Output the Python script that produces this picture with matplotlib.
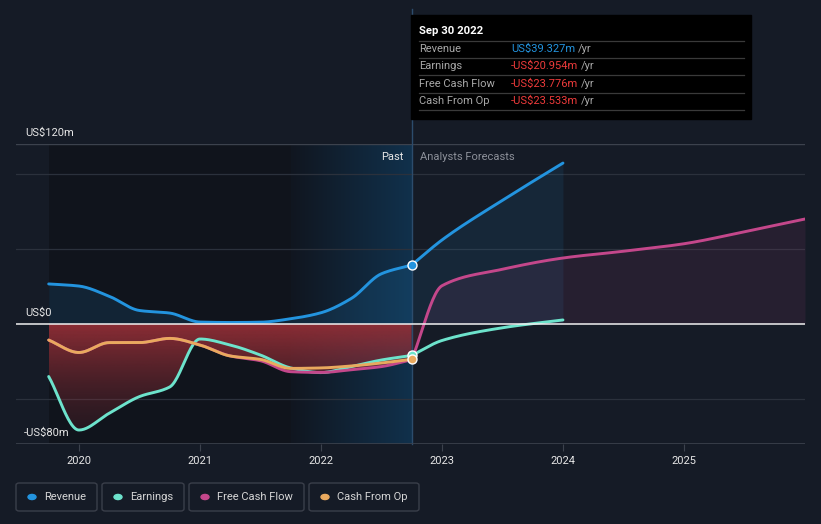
import matplotlib.pyplot as plt
import numpy as np
from matplotlib.patches import Rectangle, FancyBboxPatch
from matplotlib.lines import Line2D

plt.rcParams['font.family'] = ['Roboto', 'DejaVu Sans']

# ---- data (US$ m) ----
past_t = [2019.75, 2020.0, 2020.25, 2020.5, 2020.75, 2021.0, 2021.25,
          2021.5, 2021.75, 2022.0, 2022.25, 2022.5, 2022.75]
revenue = [26.7, 25.3, 18.5, 9.0, 7.3, 1.3, 1.0, 1.2, 3.5, 7.5, 17.0, 33.5, 39.327]
earnings = [-35.0, -70.7, -59.5, -48.4, -42.0, -10.0, -14.0, -20.7, -29.3,
            -32.4, -28.4, -24.0, -20.954]
cash_op = [-10.7, -19.0, -12.4, -12.4, -9.6, -14.0, -21.3, -23.6, -29.6,
           -29.3, -28.0, -26.0, -23.533]
fcf = [-10.7, -19.0, -12.4, -12.4, -9.6, -14.0, -21.3, -24.5, -31.8,
       -32.3, -30.5, -28.4, -23.776]

rev_fc_t = [2022.75, 2023.0, 2023.5, 2024.0]
rev_fc = [39.327, 56.0, 82.5, 107.3]
earn_fc_t = [2022.75, 2023.0, 2023.5, 2024.0]
earn_fc = [-20.954, -11.0, -2.5, 2.7]
fcf_fc_t = [2022.75, 2023.0, 2023.5, 2024.0, 2024.5, 2025.0, 2025.5, 2026.0]
fcf_fc = [-23.776, 25.5, 36.5, 44.0, 48.5, 53.5, 61.5, 70.0]

years = [2020, 2021, 2022, 2023, 2024, 2025]

C_REV = '#2394df'
C_EARN = '#6de3cc'
C_FCF = '#c4478b'
C_CFO = '#e9a95e'
BG = '#151b26'


def smooth(x, y, n=300):
    # monotone cubic (Fritsch-Carlson) curve through the points
    x = np.asarray(x, float)
    y = np.asarray(y, float)
    h = np.diff(x)
    d = np.diff(y) / h
    m = np.zeros_like(y)
    m[0], m[-1] = d[0], d[-1]
    for i in range(1, len(y) - 1):
        if d[i - 1] * d[i] > 0:
            w1 = 2 * h[i] + h[i - 1]
            w2 = h[i] + 2 * h[i - 1]
            m[i] = (w1 + w2) / (w1 / d[i - 1] + w2 / d[i])
    xs = np.linspace(x[0], x[-1], n)
    k = np.clip(np.searchsorted(x, xs) - 1, 0, len(x) - 2)
    t = (xs - x[k]) / h[k]
    h00 = 2 * t**3 - 3 * t**2 + 1
    h10 = t**3 - 2 * t**2 + t
    h01 = -2 * t**3 + 3 * t**2
    h11 = t**3 - t**2
    ys = h00 * y[k] + h10 * h[k] * m[k] + h01 * y[k + 1] + h11 * h[k] * m[k + 1]
    return xs, ys


W, H = 821, 524
fig = plt.figure(figsize=(W / 100, H / 100), dpi=100, facecolor=BG)
ax = fig.add_axes([16 / W, 1 - 444 / H, (805 - 16) / W, (444 - 144) / H])
ax.set_facecolor(BG)
ax.set_xlim(2019.48, 2026.0)
ax.set_ylim(-80, 120)

# background regions
ax.axvspan(2019.75, 2021.75, color='#10141c', zorder=0, lw=0)
grad = np.linspace(0, 1, 256).reshape(1, -1)
c0 = np.array([0x10, 0x16, 0x20]) / 255
c1 = np.array([0x11, 0x31, 0x4c]) / 255
img = c0 + (c1 - c0) * grad[..., None]
ax.imshow(img, extent=[2021.75, 2022.75, -80, 120], aspect='auto', zorder=0.5)

# grid
for g in [100, 50, -50]:
    ax.axhline(g, color='#2b313c', lw=0.9, zorder=1)
ax.axhline(120, color='#3c424d', lw=1, zorder=1)
ax.axhline(0, color='#f0f0f0', lw=1.1, zorder=6)

# smooth curves
xr, yr = smooth(past_t, revenue)
xe, ye = smooth(past_t, earnings)
xc, yc = smooth(past_t, cash_op)
xf, yf = smooth(past_t, fcf)
xr2, yr2 = smooth(rev_fc_t, rev_fc)
xe2, ye2 = smooth(earn_fc_t, earn_fc)
xf2, yf2 = smooth(fcf_fc_t, fcf_fc)

# revenue area (past + forecast)
ax.fill_between(xr, 0, yr, color=C_REV, alpha=0.13, lw=0, zorder=2)
ax.fill_between(xr2, 0, yr2, color=C_REV, alpha=0.10, lw=0, zorder=2)
# fcf forecast area
ax.fill_between(xf2, 0, np.maximum(yf2, 0), color=C_FCF, alpha=0.10, lw=0, zorder=2)
ax.fill_between(xf2, 0, np.minimum(yf2, 0), color='#8b2d35', alpha=0.25, lw=0, zorder=2)

# negative area (red gradient) in the past
low = np.minimum.reduce([ye, yc, yf, np.zeros_like(ye)])
poly = ax.fill_between(xe, 0, low, color='none', lw=0, zorder=3)
vg = np.linspace(1, 0, 256).reshape(-1, 1)
red = np.zeros((256, 1, 4))
red[..., 0] = 0x92 / 255
red[..., 1] = 0x2e / 255
red[..., 2] = 0x36 / 255
red[..., 3] = 0.15 + 0.8 * vg ** 1.6
im = ax.imshow(red, extent=[2019.75, 2022.75, -80, 0], aspect='auto', zorder=3)
im.set_clip_path(poly.get_paths()[0], transform=ax.transData)

# lines
lw = 2.1
ax.plot(xe, ye, color=C_EARN, lw=lw, zorder=4, solid_capstyle='round')
ax.plot(xe2, ye2, color=C_EARN, lw=lw, zorder=4, solid_capstyle='round')
ax.plot(xf, yf, color=C_FCF, lw=lw, zorder=4.2, solid_capstyle='round')
ax.plot(xf2, yf2, color=C_FCF, lw=lw, zorder=4.2, solid_capstyle='round')
ax.plot(xc, yc, color=C_CFO, lw=lw, zorder=4.4, solid_capstyle='round')
ax.plot(xr, yr, color=C_REV, lw=lw, zorder=4.6, solid_capstyle='round')
ax.plot(xr2, yr2, color=C_REV, lw=lw, zorder=4.6, solid_capstyle='round')

# "now" line
ax.plot([2022.75, 2022.75], [-80, 210], color='#2c4c6c', lw=1, zorder=5, clip_on=False)

# markers at Sep 30 2022
ax.scatter([2022.75], [earnings[-1]], s=42, color=C_EARN, edgecolor='white', lw=1, zorder=7)
ax.scatter([2022.75], [cash_op[-1]], s=42, color=C_CFO, edgecolor='white', lw=1, zorder=7.2)
ax.scatter([2022.75], [revenue[-1]], s=42, color=C_REV, edgecolor='white', lw=1, zorder=7.4)

# axes styling
for s in ax.spines.values():
    s.set_visible(False)
ax.axhline(-80, color='#3c424d', lw=1.2, zorder=6)
ax.set_yticks([])
ax.set_xticks(years)
ax.set_xticklabels([str(y) for y in years])
ax.tick_params(axis='x', colors='#e6e6e6', labelsize=8, length=5, width=0.8,
               direction='out', pad=4, color='#3c424d')

# y labels
ax.text(2019.56, 124, 'US$120m', color='#e6e6e6', fontsize=8, va='bottom', ha='left')
ax.text(2019.56, 4, 'US$0', color='#e6e6e6', fontsize=8, va='bottom', ha='left')
ax.text(2019.545, -76, '-US$80m', color='#e6e6e6', fontsize=8, va='bottom', ha='left')

ax.text(2022.68, 111, 'Past', color='#e6e6e6', fontsize=8, ha='right', va='center')
ax.text(2022.82, 111, 'Analysts Forecasts', color='#8c9099', fontsize=8, ha='left', va='center')


def fx(px):
    return px / W


def fy(py):
    return 1 - py / H


# tooltip
fig.patches.append(Rectangle((fx(411), fy(119)), (751 - 411) / W, (119 - 15) / H,
                             transform=fig.transFigure, color='black', zorder=10))
fig.text(fx(419), fy(31), 'Sep 30 2022', color='white', fontsize=8.2, fontweight='bold',
         va='center', zorder=11)
for sy in [41, 58, 75, 93, 110]:
    fig.lines.append(Line2D([fx(419), fx(744)], [fy(sy), fy(sy)], color='#3a3a3a',
                            lw=0.9, transform=fig.transFigure, zorder=11))
rows = [('Revenue', 'US$39.327m', C_REV),
        ('Earnings', '-US$20.954m', '#ee3b3b'),
        ('Free Cash Flow', '-US$23.776m', '#ee3b3b'),
        ('Cash From Op', '-US$23.533m', '#ee3b3b')]
row_y = [49, 66, 84, 101]
for (lab, val, col), ry in zip(rows, row_y):
    fig.text(fx(419), fy(ry), lab, color='#a8a8a8', fontsize=8, va='center', zorder=11)
    t = fig.text(fx(511), fy(ry), val, color=col, fontsize=8, va='center', zorder=11)
    fig.canvas.draw()
    bb = t.get_window_extent()
    fig.text(bb.x1 / W + 3 / W, fy(ry), '/yr', color='#a8a8a8', fontsize=8,
             va='center', zorder=11)

# legend boxes
legend = [('Revenue', C_REV, 16, 97), ('Earnings', C_EARN, 102, 184),
          ('Free Cash Flow', C_FCF, 189, 304), ('Cash From Op', C_CFO, 309, 419)]
for lab, col, x0, x1 in legend:
    fig.patches.append(FancyBboxPatch((fx(x0), fy(511)), (x1 - x0) / W, 28 / H,
                                      boxstyle='round,pad=0,rounding_size=0.004',
                                      transform=fig.transFigure, facecolor='none',
                                      edgecolor='#3a3f4a', lw=1))
    fig.patches.append(plt.Circle((fx(x0 + 16), fy(497)), 4 / W, transform=fig.transFigure,
                                  color=col))
    fig.text(fx(x0 + 28), fy(497), lab, color='#d6d6d6', fontsize=8, va='center')

fig.savefig('out.png', dpi=100, facecolor=BG)
